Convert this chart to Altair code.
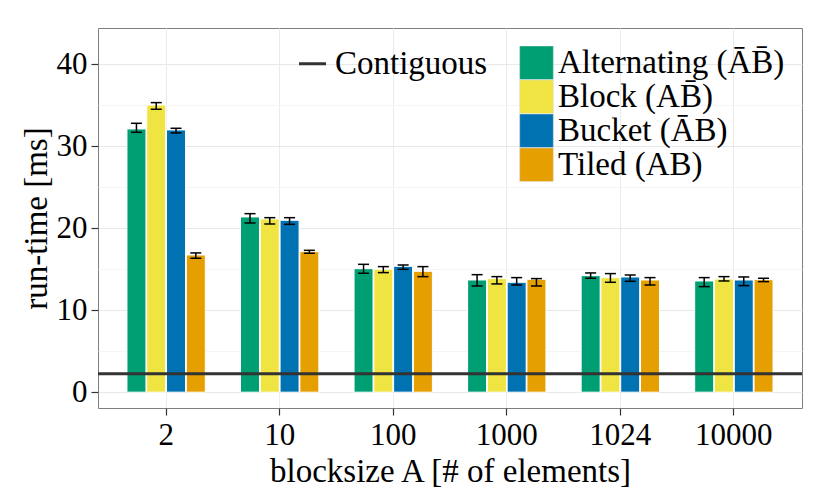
import altair as alt
import pandas as pd

blocksizes = ["2", "10", "100", "1000", "1024", "10000"]
methods = ["Alternating (ĀB̄)", "Block (AB̄)", "Bucket (ĀB)", "Tiled (AB)"]
colors = ["#009E73", "#F0E442", "#0072B2", "#E69F00"]

# mean run-time per blocksize
alternating_mean = [32.10, 21.37, 15.06, 13.68, 14.21, 13.56]
block_mean = [35.02, 21.12, 14.98, 13.85, 13.97, 13.80]
bucket_mean = [31.98, 20.96, 15.35, 13.40, 14.05, 13.68]
tiled_mean = [16.73, 17.14, 14.74, 13.76, 13.68, 13.72]

# error bar low / high
alternating_lo = [31.69, 20.63, 14.50, 12.95, 13.89, 12.87]
alternating_hi = [32.79, 21.77, 15.59, 14.33, 14.54, 13.97]
block_lo = [34.50, 20.51, 14.58, 13.20, 13.40, 13.56]
block_hi = [35.31, 21.28, 15.31, 14.09, 14.46, 14.09]
bucket_lo = [31.61, 20.47, 14.98, 13.07, 13.52, 12.99]
bucket_hi = [32.18, 21.28, 15.51, 13.97, 14.29, 14.05]
tiled_lo = [16.33, 16.94, 14.09, 12.95, 13.07, 13.48]
tiled_hi = [16.98, 17.30, 15.31, 13.85, 13.97, 13.89]

contiguous_label = ["Contiguous"]
contiguous_value = [2.26]

means = [alternating_mean, block_mean, bucket_mean, tiled_mean]
los = [alternating_lo, block_lo, bucket_lo, tiled_lo]
his = [alternating_hi, block_hi, bucket_hi, tiled_hi]

rows = []
for mi, m in enumerate(methods):
    for bi, b in enumerate(blocksizes):
        rows.append({"blocksize": b, "method": m, "mean": means[mi][bi],
                     "lo": los[mi][bi], "hi": his[mi][bi]})
df = pd.DataFrame(rows)
cont_df = pd.DataFrame({"label": contiguous_label, "value": contiguous_value})

FONT = "Liberation Serif"

x_enc = alt.X("blocksize:N", sort=blocksizes,
              scale=alt.Scale(domain=blocksizes, paddingInner=0.31, paddingOuter=0.255),
              axis=alt.Axis(title="blocksize A [# of elements]", labelAngle=0,
                            grid=True, gridColor="#ebebeb", labelPadding=5,
                            titlePadding=5))
xo_enc = alt.XOffset("method:N", sort=methods,
                     scale=alt.Scale(domain=methods, paddingInner=0.04))
y_scale = alt.Scale(domain=[-1.93, 44.41], nice=False, zero=False)
y_axis = alt.Axis(title="run-time [ms]", values=list(range(0, 45, 5)),
                  labelExpr="datum.value % 10 === 0 ? datum.label : ''",
                  tickOpacity=alt.condition("datum.value % 10 === 0", alt.value(1), alt.value(0)),
                  gridColor=alt.condition("datum.value % 10 === 0", alt.value("#e8e8e8"), alt.value("#f5f5f5")),
                  labelPadding=4, titlePadding=3)

base = alt.Chart(df)

bars = base.mark_bar(stroke="white", strokeWidth=1).encode(
    x=x_enc, xOffset=xo_enc,
    y=alt.Y("mean:Q", scale=y_scale, axis=y_axis),
    fill=alt.Fill("method:N", sort=methods,
                  scale=alt.Scale(domain=methods, range=colors),
                  legend=alt.Legend(orient="none", legendX=421, legendY=18, title=None,
                                    symbolType="square", symbolSize=1130,
                                    symbolStrokeColor="#d9d9d9", symbolStrokeWidth=0.5,
                                    symbolOpacity=1, labelFontSize=33, labelOffset=4,
                                    rowPadding=0, padding=0, labelLimit=500,
                                    clipHeight=33.6)),
)

err = base.mark_rule(color="black", strokeWidth=1.5).encode(
    x=x_enc, xOffset=xo_enc,
    y=alt.Y("lo:Q", scale=y_scale, axis=y_axis), y2="hi:Q")

cap_lo = base.mark_tick(color="black", size=11, thickness=1.5, opacity=1).encode(
    x=x_enc, xOffset=xo_enc, y=alt.Y("lo:Q", scale=y_scale, axis=y_axis))
cap_hi = base.mark_tick(color="black", size=11, thickness=1.5, opacity=1).encode(
    x=x_enc, xOffset=xo_enc, y=alt.Y("hi:Q", scale=y_scale, axis=y_axis))

cont = alt.Chart(cont_df).mark_rule(strokeWidth=3).encode(
    y=alt.Y("value:Q", scale=y_scale, axis=y_axis),
    stroke=alt.Stroke("label:N", scale=alt.Scale(domain=contiguous_label, range=["#333333"]),
                      legend=alt.Legend(orient="none", legendX=198, legendY=19, title=None,
                                        symbolType="stroke", symbolSize=729,
                                        symbolStrokeWidth=3, labelFontSize=33,
                                        labelOffset=6, padding=0, labelLimit=500,
                                        clipHeight=33.6)),
)

chart = alt.layer(bars, cont, err, cap_lo, cap_hi).properties(
    width=704, height=380,
    padding={"left": 90, "top": 20, "right": 20, "bottom": 82},
    autosize=alt.AutoSizeParams(type="none"),
    background="white",
).configure_view(
    stroke="#7f7f7f", strokeWidth=1
).configure_axis(
    labelFont=FONT, titleFont=FONT, labelFontSize=31, titleFontSize=33,
    labelColor="black", titleColor="black", titleFontWeight="normal",
    domain=False, tickColor="#333333", tickSize=7, tickWidth=1.2,
).configure_legend(
    labelFont=FONT, labelColor="black",
)

chart.save("out.html", embed_options={"renderer": "svg", "actions": False})
